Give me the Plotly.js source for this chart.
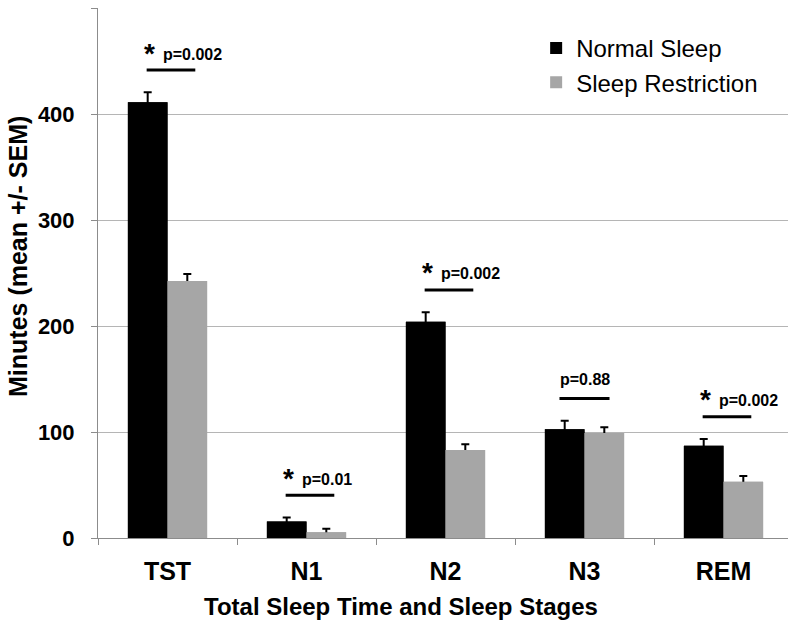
<!DOCTYPE html>
<html>
<head>
<meta charset="utf-8">
<script src="https://cdn.plot.ly/plotly-3.0.1.min.js"></script>
<style>html,body{margin:0;padding:0;background:#fff;}#chart{width:788px;height:620px;}</style>
</head>
<body>
<div id="chart"></div>
<script>
var categories = ["TST", "N1", "N2", "N3", "REM"];
var normalSleep = [411, 15.5, 204, 102.5, 87];
var normalSEM = [9.5, 3.8, 9, 8, 6.5];
var sleepRestriction = [242.5, 5.5, 83, 99, 53];
var restrictionSEM = [6.5, 3.3, 5.5, 5.5, 5.6];
var pLabels = ["p=0.002", "p=0.01", "p=0.002", "p=0.88", "p=0.002"];
var significant = [true, true, true, false, true];

var fam = "Liberation Sans, Arial, sans-serif";

function errBar(arr) {
  return {type: "data", array: arr, symmetric: true, color: "#000000", thickness: 2, width: 4};
}

var traces = [
  {type: "bar", name: "Normal Sleep", x: categories, y: normalSleep, offsetgroup: "a",
   marker: {color: "#000000"}, legendgroup: "a", error_y: errBar(normalSEM)},
  {type: "bar", name: "Sleep Restriction", x: categories, y: sleepRestriction, offsetgroup: "b",
   marker: {color: "#a6a6a6"}, legendgroup: "b", error_y: errBar(restrictionSEM)},
  // same bars drawn again on top, hiding the lower half of each error bar
  {type: "bar", name: "Normal Sleep", x: categories, y: normalSleep, offsetgroup: "a",
   marker: {color: "#000000"}, legendgroup: "a", showlegend: false, hoverinfo: "skip"},
  {type: "bar", name: "Sleep Restriction", x: categories, y: sleepRestriction, offsetgroup: "b",
   marker: {color: "#a6a6a6"}, legendgroup: "b", showlegend: false, hoverinfo: "skip"}
];

var annotations = [];
var shapes = [];
for (var i = 0; i < categories.length; i++) {
  var groupTop = Math.max(normalSleep[i] + normalSEM[i], sleepRestriction[i] + restrictionSEM[i]);
  var lineY = groupTop + 21;
  if (significant[i]) {
    shapes.push({type: "line", xref: "x", yref: "y", x0: i - 0.15, x1: i + 0.2,
                 y0: lineY, y1: lineY, line: {color: "#000", width: 3}});
    annotations.push({xref: "x", yref: "y", x: i - 0.05, y: lineY, yshift: 16, xanchor: "left",
                      yanchor: "middle", text: "<b>" + pLabels[i] + "</b>", showarrow: false,
                      font: {family: fam, size: 16, color: "#000"}});
    annotations.push({xref: "x", yref: "y", x: i - 0.13, y: lineY, yshift: 17, text: "<b>*</b>",
                      xanchor: "center", yanchor: "middle",
                      showarrow: false, font: {family: fam, size: 28, color: "#000"}});
  } else {
    shapes.push({type: "line", xref: "x", yref: "y", x0: i - 0.18, x1: i + 0.18,
                 y0: lineY, y1: lineY, line: {color: "#000", width: 3}});
    annotations.push({xref: "x", yref: "y", x: i, y: lineY, yshift: 19,
                      xanchor: "center", yanchor: "middle",
                      text: "<b>" + pLabels[i] + "</b>", showarrow: false,
                      font: {family: fam, size: 16, color: "#000"}});
  }
}

// axis titles
annotations.push({xref: "paper", yref: "paper", x: (401 - 98) / 690, y: (538 - 606) / 530,
                  xanchor: "center", yanchor: "middle",
                  text: "<b>Total Sleep Time and Sleep Stages</b>", showarrow: false,
                  font: {family: fam, size: 24, color: "#000"}});
annotations.push({xref: "paper", yref: "paper", x: (18 - 98) / 690, y: (538 - 257) / 530,
                  xanchor: "center", yanchor: "middle",
                  text: "<b>Minutes (mean +/- SEM)</b>", showarrow: false, textangle: -90,
                  font: {family: fam, size: 25, color: "#000"}});

var layout = {
  width: 788, height: 620,
  margin: {l: 98, r: 0, t: 8, b: 82},
  paper_bgcolor: "#fff", plot_bgcolor: "#fff",
  barmode: "group", bargap: 0.43, bargroupgap: 0,
  showlegend: true,
  legend: {x: 0.635, y: 0.966, xanchor: "left", yanchor: "top",
           font: {family: fam, size: 24, color: "#000"},
           traceorder: "grouped", tracegroupgap: 0, bgcolor: "rgba(0,0,0,0)"},
  xaxis: {
    type: "category", range: [-0.5, 4.464], tickson: "boundaries",
    ticks: "outside", ticklen: 6, tickcolor: "#8c8c8c",
    showline: true, linecolor: "#8c8c8c", linewidth: 1, showgrid: false,
    ticklabelstandoff: 11,
    tickfont: {family: fam, size: 25, color: "#000", weight: "bold"},
    automargin: false
  },
  yaxis: {
    range: [0, 500], dtick: 100, ticks: "outside", ticklen: 6, tickcolor: "#8c8c8c",
    showline: true, linecolor: "#8c8c8c", linewidth: 1,
    showgrid: true, gridcolor: "#b5b5b5", gridwidth: 1, zeroline: false,
    ticklabelstandoff: 12,
    tickfont: {family: fam, size: 22, color: "#000", weight: "bold"},
    automargin: false
  },
  annotations: annotations,
  shapes: shapes
};

Plotly.newPlot("chart", traces, layout, {displayModeBar: false, staticPlot: true});
</script>
</body>
</html>
